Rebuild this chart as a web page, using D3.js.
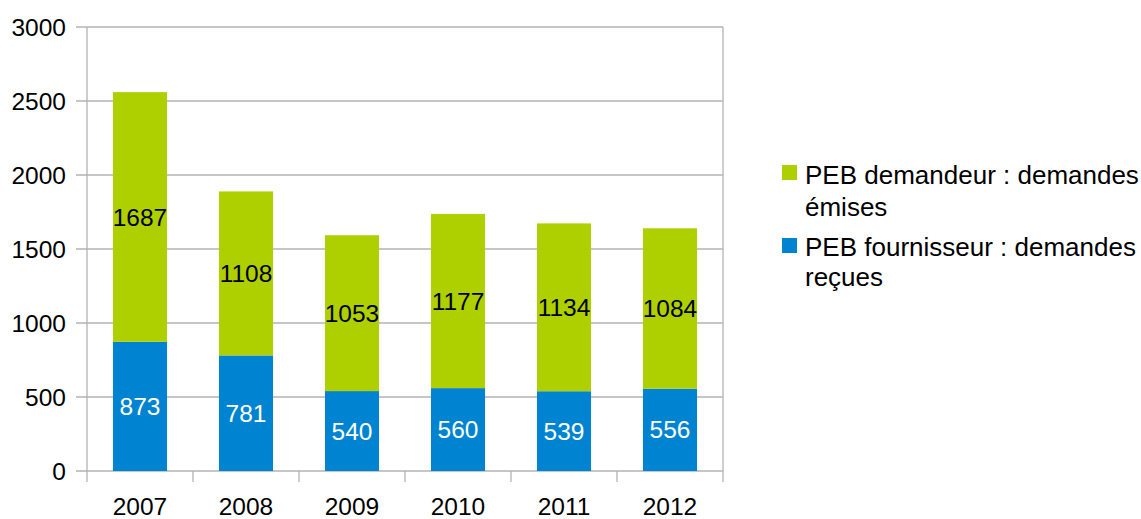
<!DOCTYPE html>
<html><head><meta charset="utf-8">
<script src="https://cdn.jsdelivr.net/npm/d3@7"></script>
<style>body{margin:0;background:#fff}svg{display:block}text{font-family:"Liberation Sans",Arial,sans-serif}</style>
</head><body>
<svg id="c" width="1141" height="519"></svg>
<script>
const categories = ["2007","2008","2009","2010","2011","2012"];
const fournisseur = [873,781,540,560,539,556];
const demandeur = [1687,1108,1053,1177,1134,1084];
const yTicks = [0,500,1000,1500,2000,2500,3000];
const seriesNames = ["PEB demandeur : demandes émises","PEB fournisseur : demandes reçues"];
const legendLines = [["PEB demandeur : demandes","émises"],["PEB fournisseur : demandes","reçues"]];
const colors = {dem:"#aecf00", four:"#0084d1"};

(function(){
const svg = d3.select("#c");
const pl=87, pr=723, pt=27, pb=471;
const x = d3.scaleBand().domain(categories).range([pl,pr]).paddingInner(0.49).paddingOuter(0.245);
const xb = d3.scaleBand().domain(categories).range([pl,pr]);
const y = d3.scaleLinear().domain([0,3000]).range([pb,pt]);
const grid="#b3b3b3";

svg.append("g").selectAll("line").data(yTicks).join("line")
  .attr("x1",pl-11).attr("x2",pr).attr("y1",d=>y(d)).attr("y2",d=>y(d))
  .attr("stroke",grid).attr("stroke-width",1.3);
svg.append("line").attr("x1",pl).attr("x2",pl).attr("y1",pt).attr("y2",pb+11).attr("stroke",grid).attr("stroke-width",1.3);
svg.append("line").attr("x1",pr).attr("x2",pr).attr("y1",pt).attr("y2",pb+11).attr("stroke",grid).attr("stroke-width",1.3);
svg.append("g").selectAll("line").data(categories.slice(1)).join("line")
  .attr("x1",d=>xb(d)).attr("x2",d=>xb(d)).attr("y1",pb).attr("y2",pb+11)
  .attr("stroke",grid).attr("stroke-width",1.3);

svg.append("g").selectAll("text").data(yTicks).join("text")
  .attr("x",pl-21).attr("y",d=>y(d)).attr("dy","0.35em").attr("text-anchor","end")
  .attr("font-size",24.5).attr("fill","#000").text(d=>d);
svg.append("g").selectAll("text").data(categories).join("text")
  .attr("x",d=>xb(d)+xb.bandwidth()/2).attr("y",515).attr("text-anchor","middle")
  .attr("font-size",24.5).attr("fill","#000").text(d=>d);

const data = categories.map((c,i)=>({c, f:fournisseur[i], d:demandeur[i]}));
svg.append("g").selectAll("rect").data(data).join("rect")
  .attr("x",d=>x(d.c)).attr("width",x.bandwidth())
  .attr("y",d=>y(d.f)).attr("height",d=>y(0)-y(d.f)).attr("fill",colors.four);
svg.append("g").selectAll("rect").data(data).join("rect")
  .attr("x",d=>x(d.c)).attr("width",x.bandwidth())
  .attr("y",d=>y(d.f+d.d)).attr("height",d=>y(d.f)-y(d.f+d.d)).attr("fill",colors.dem);
svg.append("g").selectAll("text").data(data).join("text")
  .attr("x",d=>x(d.c)+x.bandwidth()/2).attr("y",d=>y(d.f/2)).attr("dy","0.35em")
  .attr("text-anchor","middle").attr("font-size",24.5).attr("fill","#fff").text(d=>d.f);
svg.append("g").selectAll("text").data(data).join("text")
  .attr("x",d=>x(d.c)+x.bandwidth()/2).attr("y",d=>y(d.f+d.d/2)).attr("dy","0.35em")
  .attr("text-anchor","middle").attr("font-size",24.5).attr("fill","#000").text(d=>d.d);

const lg = svg.append("g");
const legItems = [{name:seriesNames[0],lines:legendLines[0],color:colors.dem,y:165,ty:[184,216]},
                  {name:seriesNames[1],lines:legendLines[1],color:colors.four,y:238,ty:[256,286]}];
legItems.forEach(it=>{
  lg.append("rect").attr("x",782).attr("y",it.y).attr("width",15).attr("height",15).attr("fill",it.color);
  const t = lg.append("text").attr("font-size",26).attr("fill","#000");
  it.lines.forEach((l,i)=>t.append("tspan").attr("x",805).attr("y",it.ty[i]).text(l));
});
})();
</script>
</body></html>
